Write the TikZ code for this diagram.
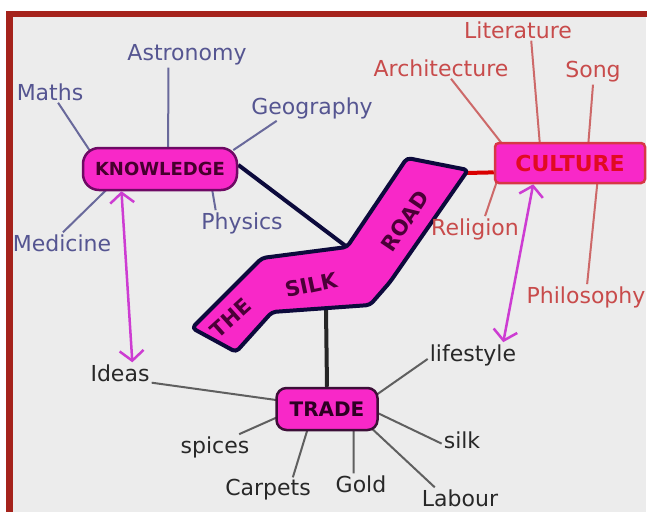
\documentclass[tikz,border=0pt]{standalone}
\usepackage{fontspec}
\setmainfont{DejaVu Sans}
\usetikzlibrary{positioning,calc,arrows.meta,backgrounds}

\definecolor{paper}{RGB}{236,236,236}
\definecolor{framered}{RGB}{165,35,28}
\definecolor{hubpink}{RGB}{248,40,200}
\definecolor{knowedge}{RGB}{110,10,100}
\definecolor{knowhubtext}{RGB}{70,0,45}
\definecolor{knowtext}{RGB}{85,85,145}
\definecolor{knowline}{RGB}{105,105,155}
\definecolor{cultedge}{RGB}{215,55,70}
\definecolor{culthubtext}{RGB}{225,10,35}
\definecolor{culttext}{RGB}{200,75,75}
\definecolor{cultline}{RGB}{205,105,105}
\definecolor{tradeedge}{RGB}{60,15,55}
\definecolor{tradehubtext}{RGB}{45,0,35}
\definecolor{tradetext}{RGB}{40,40,40}
\definecolor{tradeline}{RGB}{95,95,95}
\definecolor{roadnavy}{RGB}{12,10,60}
\definecolor{roadtext}{RGB}{75,0,55}
\definecolor{linkpink}{RGB}{205,60,210}

\begin{document}
\begin{tikzpicture}[
    x=1pt, y=-1pt,
    font=\fontsize{22}{24}\selectfont,
    >={Straight Barb[length=10pt,width=24pt]},
    hubbox/.style={draw, fill=hubpink, line width=2.5pt, align=center, inner sep=0pt, font=\fontsize{18}{20}\selectfont\bfseries},
    roadword/.style={text=roadtext, inner sep=1pt, font=\fontsize{21}{21}\selectfont\bfseries},
    knowlabel/.style={text=knowtext, inner sep=2pt},
    cultlabel/.style={text=culttext, inner sep=2pt},
    tradelabel/.style={text=tradetext, inner sep=2pt},
    knowspoke/.style={draw=knowline, line width=2pt, shorten >=-6pt},
    cultspoke/.style={draw=cultline, line width=2pt, shorten >=-6pt},
    tradespoke/.style={draw=tradeline, line width=2pt, shorten >=-6pt},
    linkarrow/.style={<->, draw=linkpink, line width=2.5pt},
    roadlink/.style={line width=4pt}
]
\useasboundingbox (0,0) rectangle (647,515);

% cadre
\begin{scope}[on background layer]
  \fill[white] (0,0) rectangle (647,515);
  \fill[paper] (13,17) rectangle (646,512);
  \fill[framered] (6,11) rectangle (647,17);
  \fill[framered] (6,11) rectangle (13,512);
\end{scope}

% la route
\draw[draw=roadnavy, fill=hubpink, line width=4pt, rounded corners=4pt, line join=round]
  (407,158) -- (468,170) -- (390,282) -- (370,305) -- (272,312) -- (236,352)
  -- (192,328) -- (262,258) -- (347,247) -- cycle;
\node[roadword, rotate=42] (roadthe)  at (231,318) {THE};
\node[roadword, rotate=12] (roadsilk) at (311,285) {SILK};
\node[roadword, rotate=56] (roadroad) at (405,221) {ROAD};
\coordinate (roadbend) at (347,247);
\coordinate (roadtop)  at (466,173);
\coordinate (roadfoot) at (326,310);

% les trois centres
\node[hubbox, draw=knowedge, text=knowhubtext, rounded corners=16pt, minimum width=154pt, minimum height=42pt] (knowledge) at (160,169) {KNOWLEDGE};
\node[hubbox, draw=cultedge, text=culthubtext, rounded corners=4pt, minimum width=150pt, minimum height=40pt, font=\fontsize{22}{24}\selectfont\bfseries] (culture) at (570,163) {CULTURE};
\node[hubbox, draw=tradeedge, text=tradehubtext, rounded corners=10pt, minimum width=101pt, minimum height=42pt, font=\fontsize{20}{22}\selectfont\bfseries] (trade) at (327,409) {TRADE};

% savoir
\node[knowlabel] (maths)     at (50,92)   {Maths};
\node[knowlabel] (astronomy) at (187,55)  {Astronomy};
\node[knowlabel] (geography) at (312,108) {Geography};
\node[knowlabel] (physics)   at (242,223) {Physics};
\node[knowlabel] (medicine)  at (62,243)  {Medicine};

% culture
\node[cultlabel] (architecture) at (441,68)  {Architecture};
\node[cultlabel] (literature)   at (518,30)  {Literature};
\node[cultlabel] (song)         at (593,72)  {Song};
\node[cultlabel] (religion)     at (475,229) {Religion};
\node[cultlabel] (philosophy)   at (586,297) {Philosophy};

% commerce
\node[tradelabel] (ideas)     at (120,373) {Ideas};
\node[tradelabel] (lifestyle) at (473,355) {lifestyle};
\node[tradelabel] (silk)      at (462,440) {silk};
\node[tradelabel] (spices)    at (215,447) {spices};
\node[tradelabel] (carpets)   at (268,490) {Carpets};
\node[tradelabel] (gold)      at (361,484) {Gold};
\node[tradelabel] (labour)    at (460,498) {Labour};

% branches (sous les centres)
\begin{scope}[on background layer]
  \draw[knowspoke] (maths.-53)     -- (knowledge.163);
  \draw[knowspoke] (astronomy.214) -- (knowledge.70);
  \draw[knowspoke] (geography.200) -- (knowledge.north east);
  \draw[knowspoke] (physics.154)   -- (knowledge.-23);
  \draw[knowspoke] (medicine.85)   -- (knowledge.202);

  \draw[cultspoke] (architecture.-47) -- (culture.163);
  \draw[cultspoke] (literature.-39)   -- (culture.145);
  \draw[cultspoke] (song.south)       -- (culture.49);
  \draw[cultspoke] (religion.52)      -- (culture.196);
  \draw[cultspoke] (philosophy.85)    -- (culture.-38);

  \draw[tradespoke] (ideas.-17)     -- (trade.170);
  \draw[tradespoke] (spices.28)     -- (trade.190);
  \draw[tradespoke] (carpets.27)    -- (trade.228);
  \draw[tradespoke] (gold.125)      -- (trade.-40);
  \draw[tradespoke] (labour.157)    -- (trade.-25);
  \draw[tradespoke] (silk.190)      -- (trade.-5);
  \draw[tradespoke] (lifestyle.185) -- (trade.17);

  % liens vers la route
  \draw[roadlink, draw=roadnavy]     (knowledge.3) -- (roadbend);
  \draw[roadlink, draw=red!85!black] (roadtop) -- (culture.187);
  \draw[roadlink, draw=black!85]     (roadfoot) -- (trade.north);
\end{scope}

% fleches roses
\draw[linkarrow] (knowledge.210) -- (ideas.41);
\draw[linkarrow] (culture.210) -- (lifestyle.23);

\end{tikzpicture}
\end{document}
